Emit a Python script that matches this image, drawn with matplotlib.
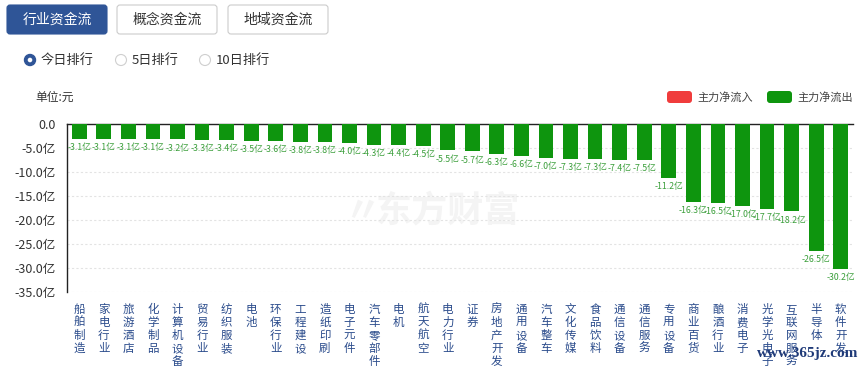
import numpy as np
import matplotlib
matplotlib.use("Agg")
import matplotlib.pyplot as plt
from matplotlib.patches import FancyBboxPatch, Circle

plt.rcParams['font.family'] = ['Noto Sans CJK SC', 'DejaVu Sans']
plt.rcParams['axes.unicode_minus'] = False

# 行业资金流 今日排行 (单位: 亿元)
industries = ['船舶制造', '家电行业', '旅游酒店', '化学制品', '计算机设备', '贸易行业',
              '纺织服装', '电池', '环保行业', '工程建设', '造纸印刷', '电子元件',
              '汽车零部件', '电机', '航天航空', '电力行业', '证券', '房地产开发',
              '通用设备', '汽车整车', '文化传媒', '食品饮料', '通信设备', '通信服务',
              '专用设备', '商业百货', '酿酒行业', '消费电子', '光学光电子', '互联网服务',
              '半导体', '软件开发']
net_flow = [-3.1, -3.1, -3.1, -3.1, -3.2, -3.3, -3.4, -3.5, -3.6, -3.8, -3.8, -4.0,
            -4.3, -4.4, -4.5, -5.5, -5.7, -6.3, -6.6, -7.0, -7.3, -7.3, -7.4, -7.5,
            -11.2, -16.3, -16.5, -17.0, -17.7, -18.2, -26.5, -30.2]
yticks = [0, -5, -10, -15, -20, -25, -30, -35]

W, H = 866, 369
fig = plt.figure(figsize=(W / 100, H / 100), dpi=100)

# 主图
ax = fig.add_axes([67 / W, 1 - 292 / H, 786 / W, 168 / H])
x = np.arange(len(industries))
ax.bar(x, net_flow, width=0.6, color='#0e950e', zorder=3)
for xi, v in zip(x, net_flow):
    ax.annotate('%.1f亿' % v, (xi, v), xytext=(0, -3), textcoords='offset points',
                ha='center', va='top', fontsize=6.3, color='#3a9e3a', zorder=4)

ax.set_xlim(-0.5, len(industries) - 0.5)
ax.set_ylim(-35, 0)
ax.set_yticks(yticks)
ax.set_yticklabels(['0.0'] + ['%.1f亿' % t for t in yticks[1:]], fontsize=9, color='#333333')
ax.set_xticks(x)
ax.set_xticklabels(['\n'.join(s) for s in industries], fontsize=8.3, color='#2b4c8c',
                   linespacing=1.0, va='top')
ax.tick_params(axis='x', length=0, pad=8)
ax.tick_params(axis='y', length=0, pad=8)
ax.grid(axis='y', linestyle=(0, (2, 2)), color='#e3e3e3', linewidth=0.8, zorder=0)
for s in ['bottom', 'right']:
    ax.spines[s].set_visible(False)
ax.spines['top'].set_color('#222222')
ax.spines['left'].set_color('#222222')
ax.spines['top'].set_linewidth(1.0)
ax.spines['left'].set_linewidth(1.0)

# 水印
ax.text(0.485, 0.48, '东方财富', transform=ax.transAxes, ha='center', va='center',
        fontsize=26, fontweight='bold', color='#f4f4f4', zorder=1)
ax.text(0.375, 0.48, '〃', transform=ax.transAxes, ha='center', va='center',
        fontsize=26, fontweight='bold', color='#f4f4f4', zorder=1)

# 页面上的按钮/图例等 (像素坐标层)
ui = fig.add_axes([0, 0, 1, 1], zorder=-1)
ui.set_xlim(0, W)
ui.set_ylim(H, 0)
ui.axis('off')

tabs = ['行业资金流', '概念资金流', '地域资金流']
tab_x = [7, 117, 228]
for i, (t, tx) in enumerate(zip(tabs, tab_x)):
    active = i == 0
    ui.add_patch(FancyBboxPatch((tx, 5), 100, 29, boxstyle='round,pad=0,rounding_size=3',
                                facecolor='#2f5597' if active else 'white',
                                edgecolor='#2f5597' if active else '#cccccc', linewidth=0.8))
    ui.text(tx + 50, 20, t, ha='center', va='center', fontsize=10,
            color='white' if active else '#333333')

radios = ['今日排行', '5日排行', '10日排行']
radio_x = [30, 121, 205]
for i, (r, rx) in enumerate(zip(radios, radio_x)):
    if i == 0:
        ui.add_patch(Circle((rx, 60), 5.5, facecolor='#2f5597', edgecolor='#2f5597'))
        ui.add_patch(Circle((rx, 60), 2.3, facecolor='white', edgecolor='none'))
    else:
        ui.add_patch(Circle((rx, 60), 5.5, facecolor='white', edgecolor='#cfcfcf', linewidth=0.8))
    ui.text(rx + 11, 60, r, ha='left', va='center', fontsize=9.5, color='#333333')

ui.text(35, 97, '单位:元', ha='left', va='center', fontsize=8.5, color='#333333')

legend_items = [('主力净流入', '#f03c3c', 667), ('主力净流出', '#0e950e', 767)]
for lab, c, lx in legend_items:
    ui.add_patch(FancyBboxPatch((lx, 91), 25, 12, boxstyle='round,pad=0,rounding_size=3',
                                facecolor=c, edgecolor='none'))
    ui.text(lx + 30, 97, lab, ha='left', va='center', fontsize=8, color='#444444')

fig.text(858 / W, 1 - 354 / H, 'www.365jz.com', ha='right', va='center', fontsize=11,
         fontweight='bold', color='#1f3a78', family=['Liberation Serif', 'DejaVu Serif'])

fig.savefig('out.png', dpi=100)
